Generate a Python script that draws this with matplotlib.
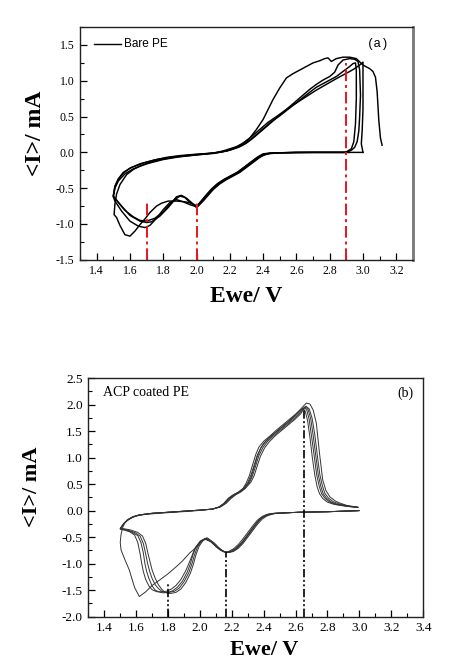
import matplotlib
matplotlib.use("Agg")
import matplotlib.pyplot as plt
from matplotlib.ticker import MultipleLocator, FormatStrFormatter

plt.rcParams['axes.unicode_minus'] = False

# ---------------- Panel (a): Bare PE ----------------
a_c1_x = [3.00, 2.80, 2.60, 2.44, 2.40, 2.37, 2.33, 2.29, 2.25, 2.21, 2.17, 2.13, 2.09, 2.06, 2.03, 2.005,
          1.97, 1.93, 1.88, 1.83, 1.79, 1.76, 1.72, 1.69, 1.66, 1.63, 1.60, 1.57, 1.54, 1.52, 1.505,
          1.51, 1.52, 1.54, 1.58, 1.62, 1.66, 1.72, 1.78, 1.86, 1.94, 2.02, 2.10, 2.16, 2.20, 2.24, 2.28,
          2.32, 2.36, 2.40, 2.43, 2.46, 2.50, 2.54, 2.58, 2.62, 2.66, 2.70, 2.74, 2.77, 2.79, 2.81, 2.84,
          2.88, 2.92, 2.96, 3.00, 3.04, 3.06, 3.075, 3.085, 3.095, 3.105, 3.115]
a_c1_y = [0.00, 0.00, 0.00, -0.01, -0.02, -0.06, -0.13, -0.20, -0.27, -0.32, -0.37, -0.43, -0.51, -0.59, -0.68, -0.75,
          -0.71, -0.69, -0.68, -0.68, -0.71, -0.75, -0.84, -0.93, -1.01, -1.10, -1.17, -1.15, -1.02, -0.91, -0.87,
          -0.72, -0.58, -0.45, -0.31, -0.24, -0.19, -0.14, -0.10, -0.07, -0.05, -0.03, -0.01, 0.02, 0.05, 0.08, 0.13,
          0.20, 0.32, 0.46, 0.60, 0.74, 0.90, 1.04, 1.10, 1.15, 1.20, 1.25, 1.28, 1.31, 1.32, 1.27, 1.31,
          1.33, 1.33, 1.31, 1.22, 1.17, 1.13, 1.05, 0.85, 0.45, 0.20, 0.10]

a_c2_x = [2.92, 2.80, 2.60, 2.45, 2.41, 2.38, 2.34, 2.30, 2.26, 2.22, 2.18, 2.14, 2.10, 2.07, 2.04, 2.01, 2.00,
          1.97, 1.94, 1.91, 1.88, 1.85, 1.80, 1.75, 1.70, 1.66, 1.62, 1.57, 1.53, 1.50,
          1.51, 1.53, 1.56, 1.60, 1.66, 1.74, 1.82, 1.90, 2.00, 2.10, 2.18, 2.22, 2.26, 2.30, 2.34, 2.38,
          2.42, 2.46, 2.50, 2.56, 2.62, 2.68, 2.72, 2.76, 2.80, 2.83, 2.85, 2.88, 2.92, 2.95, 2.97, 2.98,
          2.985, 2.98, 2.975, 2.965, 2.95, 2.93, 2.90]
a_c2_y = [0.00, 0.00, 0.00, -0.01, -0.03, -0.07, -0.14, -0.21, -0.28, -0.33, -0.38, -0.44, -0.52, -0.60, -0.68, -0.75, -0.77,
          -0.70, -0.64, -0.60, -0.62, -0.70, -0.83, -0.92, -0.96, -0.95, -0.90, -0.81, -0.70, -0.61,
          -0.48, -0.38, -0.29, -0.22, -0.16, -0.11, -0.07, -0.045, -0.025, -0.01, 0.02, 0.05, 0.08, 0.13, 0.20, 0.28,
          0.36, 0.44, 0.52, 0.64, 0.76, 0.88, 0.95, 1.01, 1.06, 1.12, 1.22, 1.29, 1.31, 1.30, 1.27, 1.15,
          0.80, 0.50, 0.30, 0.15, 0.07, 0.03, 0.01]

a_c3_x = [2.90, 2.70, 2.50, 2.43, 2.39, 2.35, 2.31, 2.27, 2.23, 2.19, 2.15, 2.11, 2.08, 2.05, 2.02, 2.00,
          1.96, 1.93, 1.90, 1.87, 1.83, 1.78, 1.73, 1.70, 1.66, 1.60, 1.55, 1.50,
          1.51, 1.53, 1.56, 1.61, 1.68, 1.76, 1.85, 1.95, 2.05, 2.14, 2.20, 2.25, 2.29, 2.33, 2.37, 2.41,
          2.45, 2.50, 2.56, 2.62, 2.68, 2.72, 2.76, 2.80, 2.84, 2.88, 2.92, 2.94, 2.955, 2.96, 2.96,
          2.955, 2.945, 2.93, 2.91]
a_c3_y = [0.00, 0.00, -0.005, -0.02, -0.05, -0.11, -0.18, -0.25, -0.31, -0.36, -0.41, -0.48, -0.55, -0.62, -0.70, -0.76,
          -0.70, -0.63, -0.61, -0.66, -0.77, -0.89, -0.97, -0.98, -0.96, -0.88, -0.75, -0.61,
          -0.47, -0.37, -0.28, -0.21, -0.15, -0.10, -0.065, -0.04, -0.02, 0.00, 0.03, 0.07, 0.12, 0.19, 0.27, 0.35,
          0.43, 0.51, 0.62, 0.73, 0.84, 0.91, 0.96, 1.01, 1.06, 1.13, 1.20, 1.24, 1.25, 1.15, 0.75,
          0.40, 0.15, 0.05, 0.02]

a_c4_x = [2.90, 2.70, 2.50, 2.44, 2.40, 2.36, 2.32, 2.28, 2.24, 2.20, 2.16, 2.12, 2.09, 2.06, 2.03, 2.00,
          1.96, 1.92, 1.88, 1.84, 1.80, 1.76, 1.72, 1.69, 1.65, 1.60, 1.55, 1.51, 1.50,
          1.51, 1.53, 1.57, 1.62, 1.70, 1.80, 1.90, 2.00, 2.10, 2.18, 2.23, 2.27, 2.31, 2.35, 2.39, 2.43,
          2.48, 2.54, 2.60, 2.66, 2.72, 2.78, 2.84, 2.88, 2.92, 2.95, 2.98, 3.00, 3.00, 3.00, 2.995, 2.99, 3.00]
a_c4_y = [0.00, 0.00, -0.005, -0.01, -0.03, -0.08, -0.15, -0.22, -0.29, -0.34, -0.39, -0.45, -0.53, -0.61, -0.69, -0.76,
          -0.73, -0.69, -0.66, -0.70, -0.80, -0.92, -1.02, -1.05, -1.03, -0.96, -0.82, -0.68, -0.62,
          -0.50, -0.40, -0.30, -0.23, -0.16, -0.10, -0.06, -0.035, -0.015, 0.02, 0.06, 0.11, 0.18, 0.26, 0.34, 0.42,
          0.50, 0.60, 0.69, 0.78, 0.87, 0.95, 1.03, 1.08, 1.13, 1.17, 1.22, 1.26, 1.00, 0.60, 0.30, 0.12, 0.00]

a_marks = [1.70, 2.00, 2.90]
a_marks_top = [-0.68, -0.66, 1.25]

# ---------------- Panel (b): ACP coated PE ----------------
b_c1_x = [3.00, 2.80, 2.62, 2.48, 2.44, 2.41, 2.38, 2.35, 2.32, 2.29, 2.26, 2.23, 2.20, 2.17, 2.15, 2.12, 2.09,
          2.06, 2.035, 2.01, 1.97, 1.935, 1.89, 1.85, 1.80, 1.746, 1.70, 1.66, 1.62, 1.59, 1.557, 1.53,
          1.505, 1.50, 1.505, 1.515, 1.53, 1.56, 1.60, 1.66, 1.74, 1.84, 1.94, 2.02, 2.08, 2.12, 2.15, 2.18,
          2.21, 2.24, 2.27, 2.30, 2.32, 2.34, 2.36, 2.38, 2.40, 2.43, 2.47, 2.51, 2.55, 2.59, 2.63, 2.655,
          2.668, 2.69, 2.71, 2.73, 2.75, 2.77, 2.79, 2.815, 2.85, 2.88, 2.92, 2.96, 2.99]
b_c1_y = [0.00, -0.02, -0.03, -0.05, -0.06, -0.09, -0.15, -0.25, -0.37, -0.50, -0.62, -0.71, -0.77, -0.79, -0.78, -0.72, -0.64,
          -0.57, -0.54, -0.58, -0.71, -0.80, -0.95, -1.06, -1.19, -1.31, -1.41, -1.53, -1.62, -1.45, -1.12, -0.93,
          -0.74, -0.60, -0.45, -0.32, -0.22, -0.15, -0.10, -0.07, -0.05, -0.03, -0.01, 0.01, 0.03, 0.07, 0.13, 0.23,
          0.30, 0.34, 0.40, 0.50, 0.62, 0.82, 1.02, 1.17, 1.27, 1.37, 1.47, 1.57, 1.67, 1.78, 1.91, 1.99,
          2.03, 2.01, 1.90, 1.65, 1.08, 0.58, 0.38, 0.26, 0.18, 0.14, 0.10, 0.08, 0.07]

b_c2_x = [2.99, 2.80, 2.62, 2.46, 2.42, 2.39, 2.36, 2.33, 2.30, 2.27, 2.24, 2.21, 2.18, 2.16, 2.13, 2.10, 2.07,
          2.03, 2.00, 1.97, 1.95, 1.93, 1.91, 1.88, 1.85, 1.82, 1.79, 1.76, 1.73, 1.70, 1.68, 1.66, 1.645,
          1.635, 1.625, 1.61, 1.59, 1.56, 1.53, 1.50,
          1.52, 1.545, 1.58, 1.62, 1.70, 1.80, 1.90, 2.00, 2.08, 2.12, 2.15, 2.18, 2.21, 2.24, 2.27, 2.29,
          2.31, 2.33, 2.35, 2.37, 2.40, 2.44, 2.48, 2.52, 2.56, 2.60, 2.63, 2.645, 2.66, 2.675, 2.69, 2.705,
          2.72, 2.735, 2.75, 2.77, 2.80, 2.84, 2.88, 2.92, 2.96, 2.99]
b_c2_y = [0.00, -0.02, -0.03, -0.05, -0.07, -0.11, -0.18, -0.29, -0.41, -0.53, -0.64, -0.72, -0.77, -0.78, -0.75, -0.68, -0.59,
          -0.53, -0.58, -0.70, -0.85, -1.00, -1.14, -1.30, -1.41, -1.48, -1.52, -1.53, -1.53, -1.49, -1.42, -1.30, -1.15,
          -1.00, -0.82, -0.60, -0.46, -0.40, -0.37, -0.35,
          -0.25, -0.17, -0.11, -0.08, -0.05, -0.03, -0.01, 0.01, 0.03, 0.07, 0.14, 0.24, 0.30, 0.35, 0.42, 0.52,
          0.66, 0.86, 1.06, 1.20, 1.31, 1.41, 1.52, 1.62, 1.72, 1.82, 1.90, 1.93, 1.88, 1.70, 1.38, 1.00,
          0.68, 0.45, 0.32, 0.23, 0.16, 0.12, 0.10, 0.08, 0.07, 0.06]

b_c3_x = [2.99, 2.80, 2.62, 2.47, 2.43, 2.40, 2.37, 2.34, 2.31, 2.28, 2.25, 2.22, 2.19, 2.165, 2.135, 2.105, 2.075,
          2.035, 2.005, 1.975, 1.955, 1.94, 1.92, 1.89, 1.86, 1.83, 1.80, 1.77, 1.75, 1.72, 1.70, 1.68, 1.665,
          1.655, 1.645, 1.63, 1.61, 1.57, 1.53, 1.50,
          1.52, 1.545, 1.58, 1.62, 1.70, 1.80, 1.90, 2.00, 2.08, 2.12, 2.155, 2.185, 2.215, 2.245, 2.275, 2.30,
          2.32, 2.34, 2.36, 2.385, 2.415, 2.455, 2.495, 2.535, 2.575, 2.61, 2.64, 2.655, 2.67, 2.685, 2.70, 2.718,
          2.732, 2.748, 2.763, 2.785, 2.815, 2.85, 2.89, 2.93, 2.965, 2.99]
b_c3_y = [0.00, -0.02, -0.03, -0.05, -0.07, -0.11, -0.18, -0.29, -0.41, -0.53, -0.64, -0.72, -0.77, -0.78, -0.75, -0.68, -0.59,
          -0.52, -0.57, -0.69, -0.84, -1.00, -1.16, -1.33, -1.44, -1.51, -1.54, -1.55, -1.54, -1.50, -1.42, -1.28, -1.14,
          -1.00, -0.80, -0.60, -0.47, -0.40, -0.36, -0.34,
          -0.25, -0.18, -0.12, -0.08, -0.05, -0.03, -0.01, 0.01, 0.03, 0.07, 0.14, 0.24, 0.30, 0.35, 0.42, 0.53,
          0.67, 0.86, 1.05, 1.20, 1.31, 1.42, 1.52, 1.62, 1.72, 1.82, 1.91, 1.95, 1.90, 1.72, 1.40, 1.00,
          0.68, 0.46, 0.32, 0.23, 0.16, 0.12, 0.10, 0.08, 0.07, 0.06]

b_c4_x = [2.99, 2.80, 2.62, 2.47, 2.44, 2.41, 2.38, 2.35, 2.32, 2.29, 2.26, 2.23, 2.20, 2.17, 2.14, 2.11, 2.08,
          2.04, 2.01, 1.985, 1.965, 1.95, 1.93, 1.90, 1.87, 1.84, 1.81, 1.78, 1.76, 1.74, 1.72, 1.70, 1.685,
          1.672, 1.66, 1.645, 1.625, 1.59, 1.54, 1.50,
          1.52, 1.545, 1.58, 1.62, 1.70, 1.80, 1.90, 2.00, 2.08, 2.125, 2.16, 2.19, 2.22, 2.25, 2.28, 2.31,
          2.33, 2.35, 2.37, 2.395, 2.425, 2.465, 2.505, 2.545, 2.585, 2.62, 2.645, 2.66, 2.678, 2.695, 2.71, 2.728,
          2.742, 2.758, 2.773, 2.795, 2.825, 2.86, 2.90, 2.94, 2.97, 2.99]
b_c4_y = [0.00, -0.02, -0.03, -0.05, -0.07, -0.10, -0.16, -0.27, -0.39, -0.51, -0.63, -0.72, -0.77, -0.79, -0.76, -0.69, -0.60,
          -0.52, -0.57, -0.68, -0.84, -1.00, -1.17, -1.34, -1.46, -1.52, -1.54, -1.54, -1.52, -1.47, -1.40, -1.28, -1.15,
          -1.00, -0.82, -0.62, -0.48, -0.41, -0.36, -0.34,
          -0.26, -0.18, -0.12, -0.08, -0.05, -0.03, -0.01, 0.01, 0.03, 0.07, 0.14, 0.23, 0.30, 0.35, 0.42, 0.53,
          0.66, 0.85, 1.04, 1.19, 1.31, 1.42, 1.52, 1.62, 1.72, 1.82, 1.91, 1.96, 1.91, 1.73, 1.42, 1.00,
          0.68, 0.46, 0.32, 0.23, 0.16, 0.12, 0.10, 0.08, 0.07, 0.06]

b_c5_x = [3.00, 2.80, 2.62, 2.48, 2.45, 2.42, 2.39, 2.36, 2.33, 2.30, 2.27, 2.24, 2.21, 2.18, 2.15, 2.12, 2.09,
          2.045, 2.02, 1.995, 1.975, 1.96, 1.94, 1.91, 1.88, 1.85, 1.82, 1.80, 1.78, 1.76, 1.74, 1.72, 1.70,
          1.69, 1.675, 1.66, 1.64, 1.61, 1.56, 1.50,
          1.52, 1.545, 1.58, 1.62, 1.70, 1.80, 1.90, 2.00, 2.08, 2.13, 2.165, 2.195, 2.225, 2.255, 2.285, 2.32,
          2.34, 2.36, 2.38, 2.405, 2.435, 2.475, 2.515, 2.555, 2.595, 2.63, 2.65, 2.665, 2.685, 2.703, 2.72, 2.738,
          2.752, 2.768, 2.783, 2.805, 2.835, 2.87, 2.91, 2.945, 2.975, 2.99]
b_c5_y = [0.00, -0.02, -0.03, -0.05, -0.07, -0.10, -0.16, -0.26, -0.38, -0.50, -0.62, -0.71, -0.77, -0.79, -0.77, -0.70, -0.61,
          -0.51, -0.56, -0.67, -0.83, -1.00, -1.18, -1.36, -1.48, -1.54, -1.56, -1.56, -1.54, -1.48, -1.40, -1.28, -1.12,
          -1.00, -0.82, -0.62, -0.48, -0.41, -0.36, -0.33,
          -0.26, -0.18, -0.12, -0.08, -0.05, -0.03, -0.01, 0.01, 0.03, 0.07, 0.14, 0.23, 0.30, 0.35, 0.42, 0.54,
          0.66, 0.85, 1.03, 1.18, 1.30, 1.42, 1.52, 1.62, 1.72, 1.82, 1.91, 1.97, 1.92, 1.75, 1.44, 1.00,
          0.68, 0.47, 0.33, 0.24, 0.17, 0.13, 0.10, 0.08, 0.07, 0.06]

b_marks = [1.80, 2.165, 2.65]
b_marks_top = [-1.37, -0.78, 1.93]

# ---------------- Figure ----------------
fig = plt.figure(figsize=(4.65, 6.61), dpi=100)
serif = 'Liberation Serif'

def style_axes(ax, fs):
    for s in ['top', 'right', 'left', 'bottom']:
        ax.spines[s].set_linewidth(1.0)
        ax.spines[s].set_color('#222222')
    ax.xaxis.set_minor_locator(MultipleLocator(0.1))
    ax.xaxis.set_major_locator(MultipleLocator(0.2))
    ax.yaxis.set_major_locator(MultipleLocator(0.5))
    ax.yaxis.set_minor_locator(MultipleLocator(0.25))
    ax.xaxis.set_major_formatter(FormatStrFormatter('%.1f'))
    ax.yaxis.set_major_formatter(FormatStrFormatter('%.1f'))
    ax.tick_params(which='major', direction='in', length=5, width=0.9, top=False, right=False,
                   labelsize=fs, pad=4)
    ax.tick_params(which='minor', direction='in', length=3, width=0.8, top=False, right=False)
    for lab in ax.get_xticklabels() + ax.get_yticklabels():
        lab.set_fontfamily(serif)

# Panel (a)
axa = fig.add_axes([0.172, 0.607, 0.716, 0.352])
for xs, ys in [(a_c1_x, a_c1_y), (a_c2_x, a_c2_y), (a_c3_x, a_c3_y), (a_c4_x, a_c4_y)]:
    axa.plot(xs, ys, color='black', lw=1.05)
for xm, yt in zip(a_marks, a_marks_top):
    axa.plot([xm, xm], [-1.5, yt], color='#e8141c', lw=1.4, ls=(0, (6, 2, 1.5, 2)))
axa.set_xlim(1.3, 3.3)
axa.set_ylim(-1.5, 1.75)
style_axes(axa, 8.5)
axa.spines['right'].set_color('#777777')
axa.spines['right'].set_linewidth(2.0)
axa.set_xlabel('Ewe/ V', fontfamily=serif, fontweight='bold', fontsize=17)
axa.set_ylabel('<I>/ mA', fontfamily=serif, fontweight='bold', fontsize=17)
axa.xaxis.set_label_coords(0.498, -0.159)
axa.xaxis.label.set_va('center')
axa.yaxis.set_label_coords(-0.135, 0.545)
axa.yaxis.label.set_va('center')
axa.plot([1.385, 1.545], [1.51, 1.51], color='black', lw=1.0)
axa.text(1.565, 1.51, 'Bare PE', fontfamily='Liberation Sans', fontsize=8.5, va='center', ha='left')
axa.text(3.09, 1.52, '(a)', fontfamily='Liberation Mono', fontsize=9, va='center', ha='center')

# Panel (b)
axb = fig.add_axes([0.190, 0.067, 0.720, 0.361])
for xs, ys in [(b_c1_x, b_c1_y), (b_c2_x, b_c2_y), (b_c3_x, b_c3_y), (b_c4_x, b_c4_y), (b_c5_x, b_c5_y)]:
    axb.plot(xs, ys, color='#333333', lw=0.7)
for xm, yt in zip(b_marks, b_marks_top):
    axb.plot([xm, xm], [-2.0, yt], color='black', lw=1.2, ls=(0, (5, 1.5, 1.2, 1.5, 1.2, 1.5)))
axb.set_xlim(1.3, 3.4)
axb.set_ylim(-2.0, 2.5)
style_axes(axb, 9.5)
axb.set_xlabel('Ewe/ V', fontfamily=serif, fontweight='bold', fontsize=16)
axb.set_ylabel('<I>/ mA', fontfamily=serif, fontweight='bold', fontsize=16)
axb.xaxis.set_label_coords(0.526, -0.14)
axb.xaxis.label.set_va('center')
axb.yaxis.set_label_coords(-0.168, 0.544)
axb.yaxis.label.set_va('center')
axb.text(1.39, 2.22, 'ACP coated PE', fontfamily=serif, fontsize=10, va='center', ha='left')
axb.text(3.29, 2.22, '(b)', fontfamily=serif, fontsize=10, va='center', ha='center')

fig.savefig('out.png', dpi=100)
